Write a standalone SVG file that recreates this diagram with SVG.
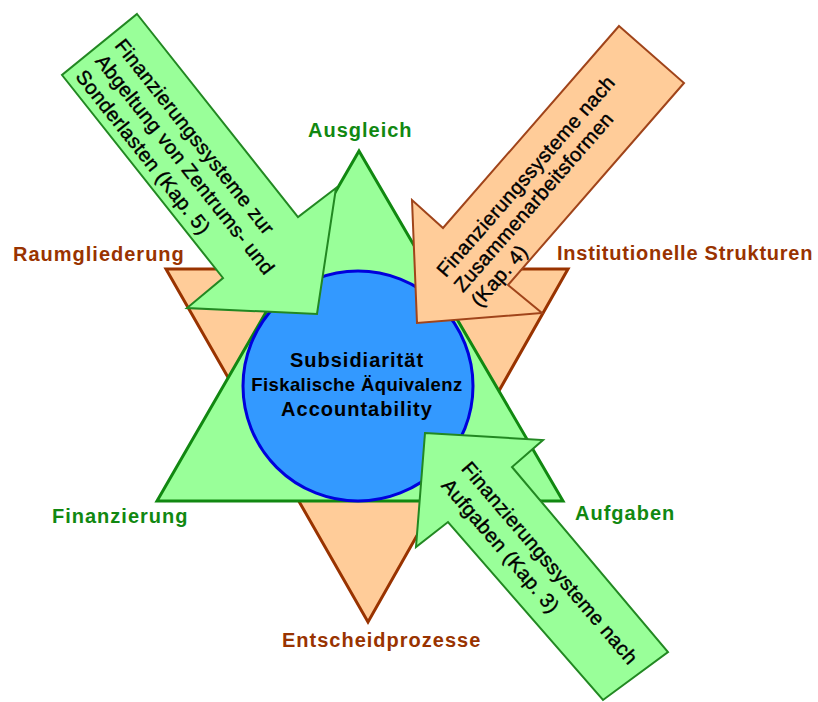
<svg xmlns="http://www.w3.org/2000/svg" width="818" height="702" viewBox="0 0 818 702">
<style>
  text { font-family: "Liberation Sans", Arial, sans-serif; font-weight: bold; }
  .lbl { font-size: 20px; letter-spacing: 1px; }
  .g { fill: #118811; }
  .b { fill: #993300; }
  .ctr { font-size: 20px; fill: #000; text-anchor: middle; }
  .arr { font-size: 20px; font-weight: normal; letter-spacing: 0.4px; fill: #000; stroke: #000; stroke-width: 0.4px; }
  .garrow { fill: #99ff99; stroke: #228822; stroke-width: 2; stroke-linejoin: miter; }
  .oarrow { fill: #ffcc99; stroke: #a0441a; stroke-width: 2; stroke-linejoin: miter; }
</style>
<rect width="818" height="702" fill="#ffffff"/>

<g id="triangle-orange">
  <polygon points="166,269 568,269 368,622" fill="#ffcc99" stroke="#993300" stroke-width="3" stroke-linejoin="miter"/>
</g>
<g id="triangle-green">
  <polygon points="359,151 563,501 157,501" fill="#99ff99" stroke="#118811" stroke-width="3" stroke-linejoin="miter"/>
</g>
<g id="core">
  <circle cx="358" cy="386" r="115" fill="#3399ff" stroke="#0000dd" stroke-width="3"/>
  <text class="ctr" x="357" y="367" style="letter-spacing:1px">Subsidiarität</text>
  <text class="ctr" x="357" y="391" style="font-size:18.5px;letter-spacing:0.4px">Fiskalische Äquivalenz</text>
  <text class="ctr" x="357" y="416" style="letter-spacing:1px">Accountability</text>
</g>

<g id="label-ausgleich"><text class="lbl g" x="308" y="137">Ausgleich</text></g>
<g id="label-raumgliederung"><text class="lbl b" x="13" y="261">Raumgliederung</text></g>
<g id="label-institutionelle"><text class="lbl b" x="557" y="260" style="letter-spacing:0.75px">Institutionelle Strukturen</text></g>
<g id="label-finanzierung"><text class="lbl g" x="52" y="523">Finanzierung</text></g>
<g id="label-aufgaben"><text class="lbl g" x="575" y="520">Aufgaben</text></g>
<g id="label-entscheid"><text class="lbl b" x="282" y="647">Entscheidprozesse</text></g>

<g id="connectors">
  <g id="arrow-kap5">
    <polygon class="garrow" points="137,14 298,217 336,188 317,314 187,308 223,278 62,75"/>
    <text class="arr" transform="translate(99.5,44.5) rotate(51.6)">
      <tspan x="10" y="-10.5">Finanzierungssysteme zur</tspan>
      <tspan x="10" y="14.3">Abgeltung von Zentrums- und</tspan>
      <tspan x="10" y="39.5">Sonderlasten (Kap. 5)</tspan>
    </text>
  </g>
  <g id="arrow-kap4">
    <polygon class="oarrow" points="619,26 684,83 508,285 542,313 417,323 412,200 443,228"/>
    <text class="arr" transform="translate(475.5,256.5) rotate(-48.9)">
      <tspan x="-36" y="-8">Finanzierungssysteme nach</tspan>
      <tspan x="-36" y="14.7">Zusammenarbeitsformen</tspan>
      <tspan x="-36" y="37.5">(Kap. 4)</tspan>
    </text>
  </g>
  <g id="arrow-kap3">
    <polygon class="garrow" points="425,433 543,440 512,467 668,652 603,700 448,522 416,547"/>
    <text class="arr" transform="translate(480,494.5) rotate(49.5)">
      <tspan x="-32" y="-1.7">Finanzierungssysteme nach</tspan>
      <tspan x="-32" y="24.5">Aufgaben (Kap. 3)</tspan>
    </text>
  </g>
</g>
</svg>
